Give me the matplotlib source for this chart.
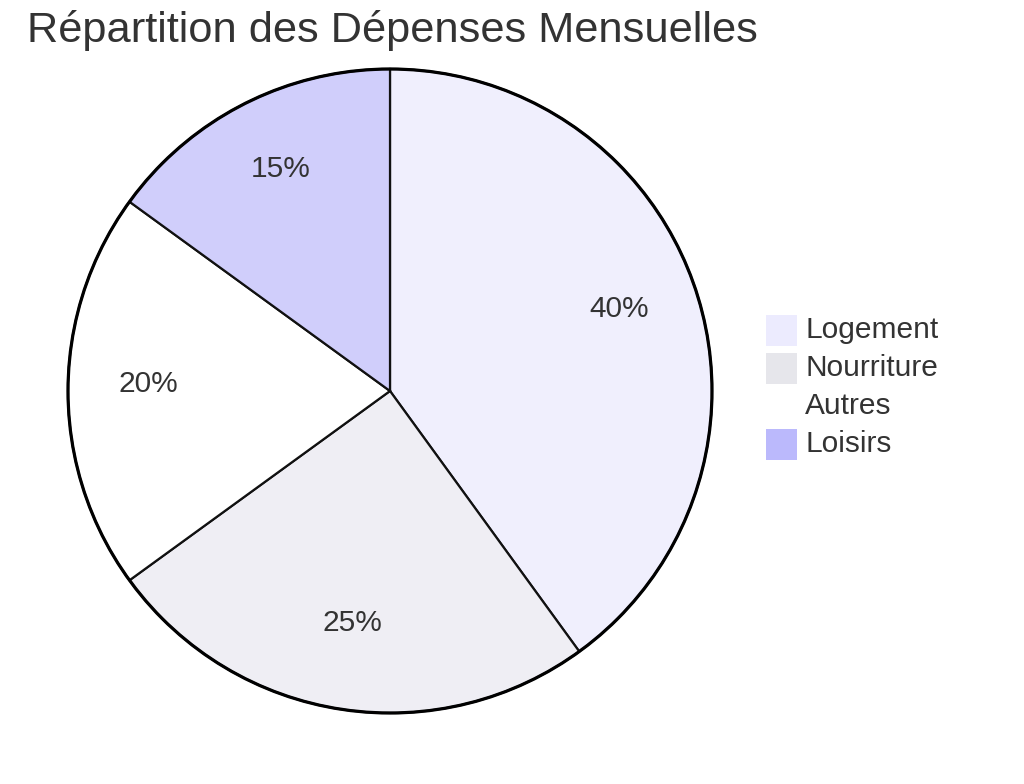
import matplotlib
matplotlib.use('Agg')
import matplotlib.pyplot as plt
from matplotlib.patches import Circle, Rectangle

plt.rcParams['font.family'] = ['Liberation Sans', 'DejaVu Sans']

titre = 'Répartition des Dépenses Mensuelles'
categories = ['Logement', 'Nourriture', 'Autres', 'Loisirs']
valeurs = [40, 25, 20, 15]
couleurs_parts = ['#F0EFFD', '#EFEEF4', '#FFFFFF', '#D0CEFB']
couleurs_legende = ['#ECEBFE', '#E6E6EB', '#FFFFFF', '#BBB9FC']

W, H = 1024, 784
fig = plt.figure(figsize=(W / 100, H / 100), dpi=100)
ax = fig.add_axes([0, 0, 1, 1])

# centre et rayon du camembert en pixels (y vers le haut)
cx, cy, r = 390, H - 391, 322
wedges, textes = ax.pie(valeurs, colors=couleurs_parts, startangle=90, counterclock=False,
                        center=(cx, cy), radius=r, labels=[f'{v}%' for v in valeurs],
                        labeldistance=0.75, frame=True,
                        wedgeprops=dict(edgecolor='#111111', linewidth=1.6),
                        textprops=dict(fontsize=21.5, color='#333333'))
for t in textes:
    x, y = t.get_position()
    t.set_position((x, y + 7))
    t.set_ha('center')
    t.set_va('center')
ax.add_patch(Circle((cx, cy), r, fill=False, edgecolor='#000000', linewidth=2.3, zorder=5))

# légende
lx, ly, pas, taille = 766, H - 330, 38, 31
for i, (nom, c) in enumerate(zip(categories, couleurs_legende)):
    y = ly - i * pas
    ax.add_patch(Rectangle((lx, y - taille / 2), taille, taille, facecolor=c, edgecolor='none'))
    ax.text(lx + 39, y, nom, fontsize=21.5, color='#333333', va='center', ha='left')

ax.text(27, H - 30, titre, fontsize=31.2, color='#333333', va='center', ha='left')

ax.set_xlim(0, W)
ax.set_ylim(0, H)
ax.set_aspect('equal')
ax.axis('off')
fig.savefig('out.png', dpi=100, facecolor='white')
